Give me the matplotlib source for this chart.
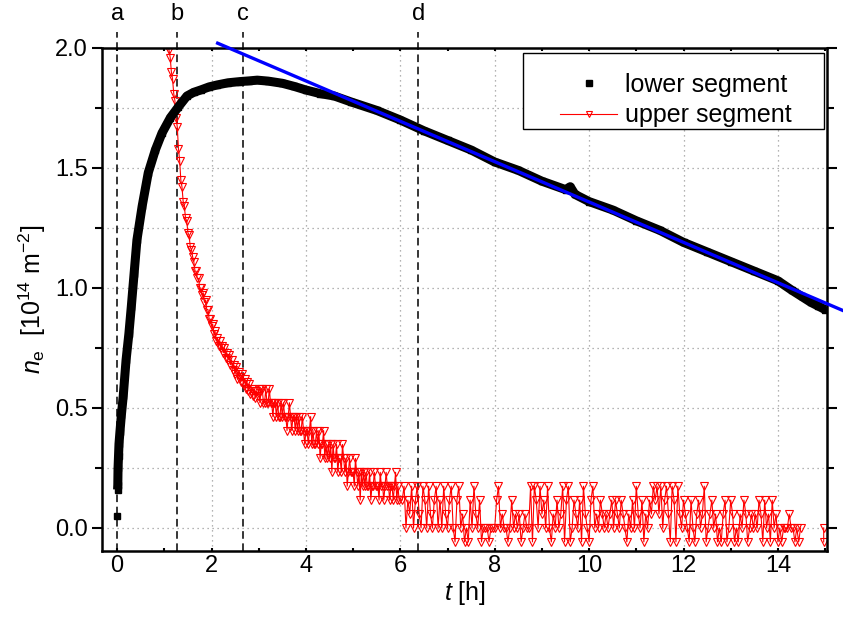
import numpy as np
import matplotlib
matplotlib.use("Agg")
import matplotlib.pyplot as plt
from matplotlib.lines import Line2D
from matplotlib.patches import Rectangle
from matplotlib.ticker import MultipleLocator, FormatStrFormatter

plt.rcParams["font.family"] = ["Liberation Sans", "DejaVu Sans"]
plt.rcParams["mathtext.fontset"] = "custom"
plt.rcParams["mathtext.rm"] = "Liberation Sans"
plt.rcParams["mathtext.it"] = "Liberation Sans:italic"

# lower segment (black squares)
t_lower = [0.00, 0.01, 0.015, 0.02, 0.03, 0.04, 0.06, 0.09, 0.13, 0.19, 0.25,
           0.30, 0.36, 0.42, 0.53, 0.66, 0.81, 0.95, 1.13, 1.30, 1.48, 1.62,
           1.77, 1.95, 2.12, 2.35, 2.60, 2.80, 2.97, 3.20, 3.50, 3.75, 4.00,
           4.30, 4.60, 4.96, 5.50, 6.00, 6.50, 7.00, 7.50, 8.00, 8.50, 9.00,
           9.50, 9.60, 9.70, 10.00, 10.50, 11.00, 11.50, 12.00, 12.50, 13.00,
           13.50, 14.00, 14.30, 14.50, 14.70, 14.85, 15.00]
n_lower = [0.05, 0.16, 0.18, 0.25, 0.30, 0.35, 0.40, 0.47, 0.55, 0.70, 0.81,
           0.92, 1.06, 1.20, 1.34, 1.48, 1.575, 1.645, 1.71, 1.755, 1.80, 1.815,
           1.825, 1.838, 1.846, 1.855, 1.86, 1.863, 1.866, 1.862, 1.853, 1.84, 1.825,
           1.81, 1.80, 1.775, 1.74, 1.70, 1.655, 1.615, 1.575, 1.525, 1.49, 1.445,
           1.41, 1.422, 1.39, 1.36, 1.325, 1.28, 1.24, 1.19, 1.15, 1.11,
           1.07, 1.03, 0.99, 0.965, 0.94, 0.925, 0.91]

# upper segment (red triangles): steep decay, t = 1.075 ... 2.975 every 0.025 h
n_decay = [2.04, 1.99, 1.96, 1.90, 1.87, 1.81, 1.78, 1.71, 1.67, 1.58, 1.53,
           1.45, 1.42, 1.36, 1.34, 1.29, 1.28, 1.23, 1.22, 1.17, 1.16, 1.13,
           1.11, 1.07, 1.07, 1.04, 1.04, 1.00, 1.00, 0.97, 0.98, 0.94, 0.95,
           0.91, 0.91, 0.87, 0.87, 0.84, 0.85, 0.81, 0.82, 0.78, 0.79, 0.76,
           0.78, 0.75, 0.76, 0.73, 0.75, 0.71, 0.73, 0.70, 0.72, 0.68, 0.70,
           0.66, 0.68, 0.64, 0.67, 0.62, 0.65, 0.63, 0.61, 0.64, 0.60, 0.62,
           0.58, 0.61, 0.57, 0.60, 0.56, 0.58, 0.55, 0.58, 0.54, 0.57, 0.55]

# digitisation step of the upper segment and levels (in steps)
dn = 0.058
# t = 3.000 ... 5.975, every 0.025 h
k_mid = [10, 9, 10, 10, 9, 9, 10, 9, 9, 10,
         9, 9, 8, 9, 9, 8, 9, 8, 8, 9,
         8, 9, 8, 8, 7, 8, 9, 8, 7, 8,
         8, 7, 8, 7, 8, 7, 7, 8, 7, 6,
         7, 7, 6, 7, 8, 6, 7, 6, 6, 7,
         6, 7, 5, 6, 6, 7, 5, 6, 5, 6,
         5, 6, 4, 6, 5, 5, 6, 4, 5, 5,
         4, 6, 5, 4, 5, 3, 4, 5, 4, 4,
         4, 3, 5, 4, 3, 4, 2, 4, 3, 4,
         3, 4, 3, 3, 4, 2, 3, 3, 4, 3,
         3, 3, 2, 4, 3, 3, 2, 3, 4, 3,
         3, 2, 3, 3, 2, 3, 4, 2, 3, 2]
# t = 6.04 ... 14.48, every 0.04 h
k_tail = [2, 3, 0, 2, 1, 3, 0, 2, 3, 1,
          0, 3, 2, 0, 3, 1, 0, 2, 3, 0,
          2, 0, 3, 1, 0, 2, 3, 0, -1, 2,
          3, 0, 1, -1, 0, -1, 2, 0, 3, 1,
          0, 2, -1, 0, 0, 0, -1, 0, 0, 0,
          2, 3, 0, 1, 0, 0, -1, 0, 2, 0,
          1, 0, 1, -1, 0, 1, 0, 0, 3, -1,
          3, 2, 0, 3, 1, 2, 0, 3, 0, -1,
          1, 0, 2, 0, 1, 3, -1, 2, 3, -1,
          0, 2, 1, 0, 2, -1, 3, 1, 0, -1,
          2, 3, 0, 1, 0, 2, 1, 0, 1, 0,
          1, 2, 0, 2, 1, 0, 2, 1, 0, -1,
          1, 0, 2, 0, 3, 1, 0, 2, -1, 1,
          0, 2, 1, 3, 2, 3, 1, 3, 0, 2,
          3, 1, -1, 3, 2, -1, 3, 1, 0, 2,
          1, 0, -1, 2, 0, -1, 1, 2, 0, 1,
          3, -1, 0, 1, 2, 0, 1, -1, 0, -1,
          1, 2, -1, 0, 2, 1, -1, 0, -1, 1,
          0, 2, 1, -1, 0, 1, 0, 1, 0, 2,
          1, -1, 2, 0, 1, -1, 2, 0, 1, -1,
          0, -1, 0, 0, 0, 1, 0, 0, -1, 0,
          -1, 0]
t_end = [14.97, 14.97]
k_end = [0, -1]

# linear fit (blue), end points
t_fit = [2.13, 15.45]
n_fit = [2.02, 0.90]

# marked times
t_marks = [0.0, 1.27, 2.67, 6.38]
mark_labels = ["a", "b", "c", "d"]

t_decay = 1.075 + 0.025 * np.arange(len(n_decay))
t_mid = 3.0 + 0.025 * np.arange(len(k_mid))
t_tail = 6.04 + 0.04 * np.arange(len(k_tail))
t_up_all = np.concatenate([t_decay, t_mid, t_tail, [np.nan], t_end])
n_up_all = np.concatenate([n_decay, dn * np.array(k_mid), dn * np.array(k_tail),
                           [np.nan], dn * np.array(k_end)])

fig = plt.figure(figsize=(8.43, 6.22), dpi=100)
ax = fig.add_axes([102 / 843, 71 / 622, 725 / 843, 503 / 622])

ax.set_xlim(-0.32, 15.04)
ax.set_ylim(-0.096, 2.0)

# grid
for x in range(2, 15, 2):
    ax.axvline(x, color="#9a9a9a", lw=0.9, ls=(0, (1, 3)), zorder=0)
for y in np.arange(0, 2.0, 0.25):
    ax.axhline(y, color="#9a9a9a", lw=0.9, ls=(0, (1, 3)), zorder=0)

# marker lines
for tm, lab in zip(t_marks, mark_labels):
    ax.plot([tm, tm], [-0.096, 2.065], color="black", lw=1.1, ls=(0, (5, 3)),
            clip_on=False, zorder=1)
    ax.text(tm, 2.14, lab, ha="center", va="center", fontsize=17)

ax.plot(t_up_all, n_up_all, color="red", lw=0.8, marker="v", ms=5.5,
        mfc="none", mec="red", mew=0.8, zorder=2)
ax.plot(t_lower[1:], n_lower[1:], color="black", lw=6.5, zorder=3,
        solid_capstyle="butt")
ax.plot(t_lower, n_lower, ls="none", marker="s", ms=5, color="black", zorder=3)
ax.plot(t_fit, n_fit, color="#0000ff", lw=2.4, clip_on=False, zorder=4)

ax.xaxis.set_major_locator(MultipleLocator(2))
ax.xaxis.set_minor_locator(MultipleLocator(1))
ax.yaxis.set_major_locator(MultipleLocator(0.5))
ax.yaxis.set_minor_locator(MultipleLocator(0.25))
ax.yaxis.set_major_formatter(FormatStrFormatter("%.1f"))

ax.tick_params(which="both", direction="out", width=1.5, labelsize=17)
ax.tick_params(which="major", length=7, pad=3)
ax.tick_params(which="minor", length=4)
ax.tick_params(which="both", right=True)
ax.tick_params(which="both", top=True, direction="in", length=2)
ax.tick_params(axis="y", which="both", direction="out")
ax.tick_params(axis="y", which="major", length=7)
ax.tick_params(axis="y", which="minor", length=5)
for s in ax.spines.values():
    s.set_linewidth(1.8)

ax.set_xlabel("$t$ [h]", fontsize=18)
ax.xaxis.set_label_coords(0.5, -0.056)
ax.set_ylabel("$n_\\mathrm{e}$  [10$^{14}$ m$^{-2}$]", fontsize=18)
ax.yaxis.set_label_coords(-0.075, 0.5)

# legend
ax.add_patch(Rectangle((0.581, 0.839), 0.415, 0.151, transform=ax.transAxes,
                       facecolor="white", edgecolor="black", lw=1.0, zorder=5))
handles = [Line2D([], [], ls="none", marker="s", ms=5, color="black"),
           Line2D([], [], color="red", lw=0.8, marker="v", ms=5, mfc="none",
                  mec="red", mew=0.8)]
leg = ax.legend(handles, ["lower segment", "upper segment"], loc="upper right",
                bbox_to_anchor=(0.975, 0.985), frameon=False, fontsize=18,
                handlelength=2.3, handletextpad=0.3, labelspacing=0.25,
                borderpad=0.2)
leg.set_zorder(6)

fig.savefig("out.png", dpi=100)
